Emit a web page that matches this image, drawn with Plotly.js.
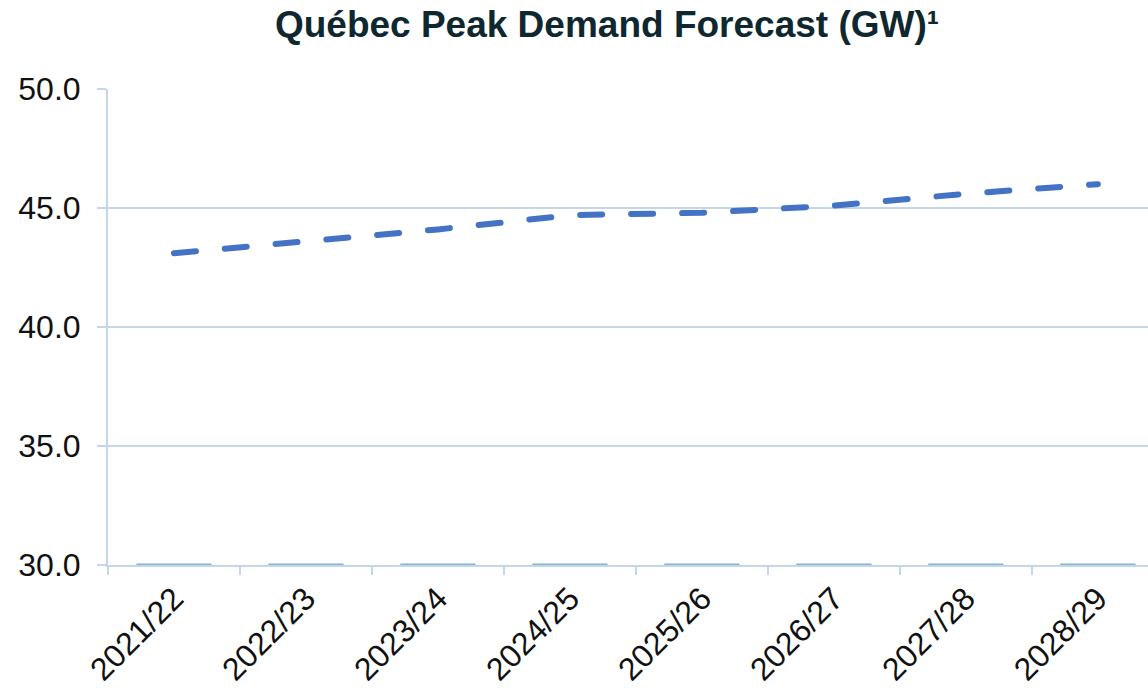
<!DOCTYPE html>
<html>
<head>
<meta charset="utf-8">
<script src="https://cdn.plot.ly/plotly-3.0.1.min.js"></script>
<style>
  html, body { margin: 0; padding: 0; background: #ffffff; }
  #chart { width: 1148px; height: 690px; }
  .scatterlayer .js-line { stroke-linecap: round; }
</style>
</head>
<body>
<div id="chart"></div>
<script>
// Data
const categories = ["2021/22", "2022/23", "2023/24", "2024/25", "2025/26", "2026/27", "2027/28", "2028/29"];
const peakDemandGW = [43.1, 43.6, 44.1, 44.7, 44.8, 45.1, 45.6, 46.0];
const floorBarHeights = [0.06, 0.06, 0.06, 0.06, 0.06, 0.06, 0.06, 0.06];
const floorBarBase = [30, 30, 30, 30, 30, 30, 30, 30];
const yTickValues = [30, 35, 40, 45, 50];
const yTickLabels = ["30.0", "35.0", "40.0", "45.0", "50.0"];

const gridColor = "#c5d6e8";
const fontFamily = '"Liberation Sans", Arial, sans-serif';

const traces = [
  {
    type: "bar",
    x: categories,
    y: floorBarHeights,
    base: floorBarBase,
    width: 0.57,
    marker: { color: "#7fb6d6", line: { width: 0 } },
    hoverinfo: "skip",
    showlegend: false
  },
  {
    type: "scatter",
    mode: "lines",
    x: categories,
    y: peakDemandGW,
    line: { color: "#4472c4", width: 6, dash: "22px,29px" },
    showlegend: false
  }
];

const layout = {
  width: 1148,
  height: 690,
  margin: { l: 108, r: 0, t: 89, b: 125, pad: 0 },
  paper_bgcolor: "#ffffff",
  plot_bgcolor: "#ffffff",
  font: { family: fontFamily, color: "#111111" },
  title: {
    text: "<b>Québec Peak Demand Forecast (GW)¹</b>",
    font: { family: fontFamily, size: 37, color: "#0f2830" },
    x: 607 / 1148,
    xanchor: "center",
    xref: "container",
    y: 1 - 24 / 690,
    yanchor: "middle",
    yref: "container"
  },
  xaxis: {
    type: "category",
    range: [-0.5, 7.38],
    tickson: "boundaries",
    ticks: "outside",
    ticklen: 8,
    tickwidth: 2,
    tickcolor: gridColor,
    tickangle: -45,
    tickfont: { family: fontFamily, size: 32, color: "#111111" },
    showline: true,
    linecolor: gridColor,
    linewidth: 2,
    showgrid: false,
    zeroline: false,
    fixedrange: true
  },
  yaxis: {
    range: [30, 50],
    tickvals: yTickValues,
    ticktext: yTickLabels,
    ticks: "outside",
    ticklen: 9,
    tickwidth: 2,
    tickcolor: gridColor,
    ticklabelstandoff: 10,
    tickfont: { family: fontFamily, size: 32, color: "#111111" },
    showline: true,
    linecolor: gridColor,
    linewidth: 2,
    showgrid: true,
    gridcolor: gridColor,
    gridwidth: 2,
    zeroline: false,
    fixedrange: true
  },
  bargap: 0.43,
  showlegend: false
};

Plotly.newPlot("chart", traces, layout, { displayModeBar: false, staticPlot: true });
</script>
</body>
</html>
